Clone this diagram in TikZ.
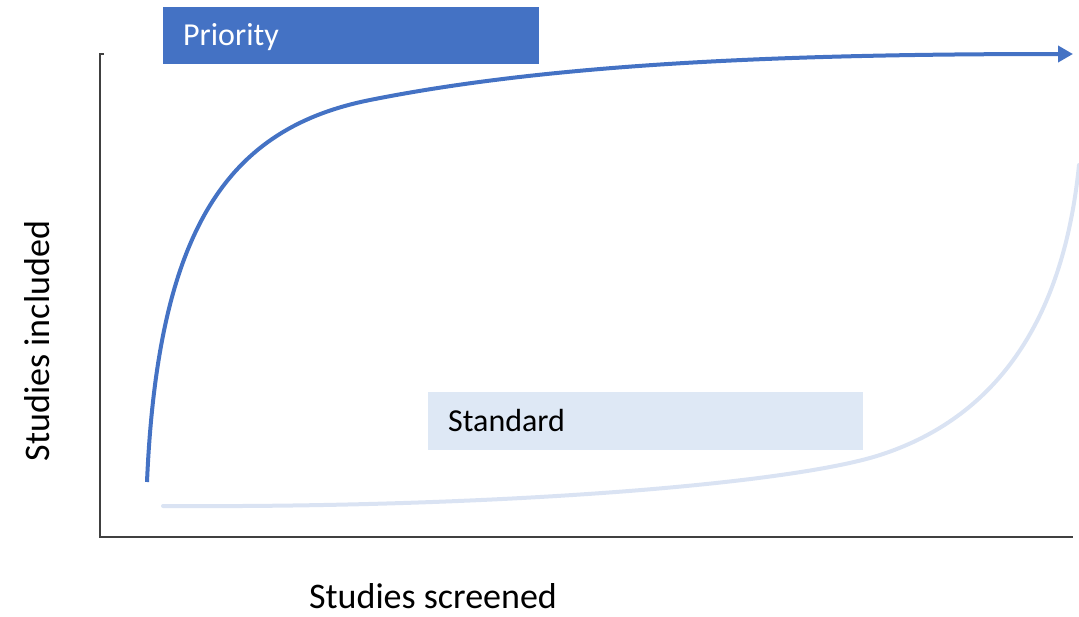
\documentclass[tikz,border=0pt]{standalone}
\usepackage{fontspec}
\setmainfont{Carlito}
\usetikzlibrary{arrows.meta}
\usepackage{xcolor}
\definecolor{prioblue}{HTML}{4472C4}
\definecolor{stdblue}{HTML}{DEE8F5}
\definecolor{stdline}{HTML}{DAE3F3}

\begin{document}
\begin{tikzpicture}[x=1pt,y=-1pt]
    \tikzset{axis/.style = {draw=black!75,line width=1.6pt}}
    \tikzset{curve/.style = {line width=4pt,line cap=round}}
    \tikzset{tag/.style = {anchor=west,inner sep=0pt,font=\fontsize{32}{38}\selectfont}}
    \tikzset{axislabel/.style = {anchor=center,inner sep=0pt,font=\fontsize{36}{42}\selectfont}}
    \useasboundingbox (0,0) rectangle (1079,616);
    % axes
    \coordinate (top) at (100,54);
    \coordinate (origin) at (100,537);
    \coordinate (right) at (1073,537);
    \draw[axis] (104,54) -- (top) -- (origin) -- (right);
    % labels
    \node[axislabel,rotate=90] (ylabel) at (37,341) {Studies included};
    \node[axislabel] (xlabel) at (433,596) {Studies screened};
    % boxes
    \fill[prioblue] (163,7) rectangle (539,64);
    \node[tag,text=white] (prio) at (183,37) {Priority};
    \fill[stdblue] (428,392) rectangle (863,450);
    \node[tag,text=black] (std) at (448,421) {Standard};
    % curves
    \coordinate (p0) at (147,482);
    \coordinate (p1) at (370,100);
    \coordinate (p2) at (1073,54);
    \draw[curve,draw=prioblue,line cap=butt,-{Triangle[length=15pt,width=16pt]}]
        (p0) .. controls (158,225) and (230,128) .. (p1)
             .. controls (560,62) and (800,54) .. (p2);
    \coordinate (s0) at (163,506);
    \coordinate (s1) at (880,455);
    \coordinate (s2) at (1079,165);
    \draw[curve,draw=stdline]
        (s0) .. controls (500,508) and (790,484) .. (s1)
             .. controls (985,421) and (1062,335) .. (s2);
\end{tikzpicture}
\end{document}
